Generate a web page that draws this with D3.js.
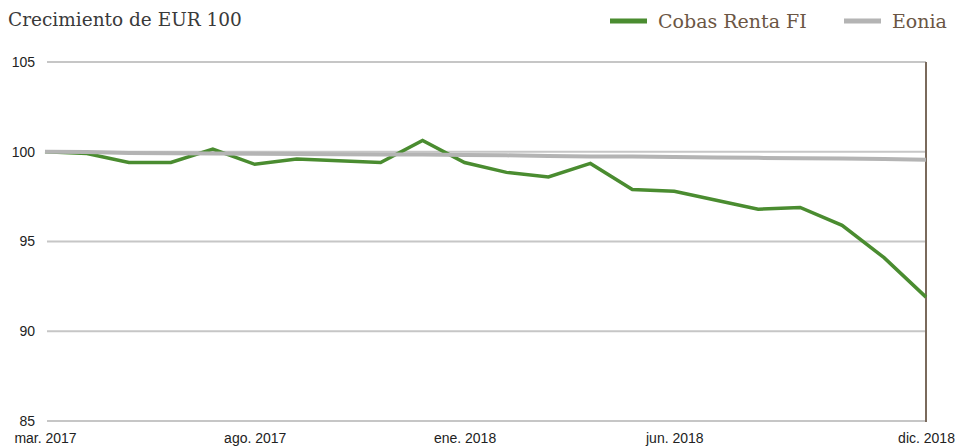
<!DOCTYPE html>
<html>
<head>
<meta charset="utf-8">
<script src="https://cdn.jsdelivr.net/npm/d3@7"></script>
<style>
  body { margin: 0; background: #fff; }
  svg { display: block; }
</style>
</head>
<body>
<div id="chart"></div>
<script>
// monthly values, mar. 2017 .. dic. 2018
var months = ["2017-03","2017-04","2017-05","2017-06","2017-07","2017-08","2017-09","2017-10","2017-11","2017-12",
  "2018-01","2018-02","2018-03","2018-04","2018-05","2018-06","2018-07","2018-08","2018-09","2018-10","2018-11","2018-12"];
var cobas = [100.0, 99.9, 99.4, 99.4, 100.15, 99.3, 99.6, 99.5, 99.4, 100.63,
  99.4, 98.85, 98.6, 99.35, 97.9, 97.8, 97.3, 96.8, 96.9, 95.9, 94.1, 91.9];
var eonia = [100.0, 99.98, 99.93, 99.91, 99.9, 99.89, 99.88, 99.86, 99.85, 99.84,
  99.82, 99.8, 99.76, 99.74, 99.73, 99.71, 99.68, 99.66, 99.64, 99.62, 99.6, 99.55];
var yTicks = [85, 90, 95, 100, 105];
var xTickMonths = ["2017-03","2017-08","2018-01","2018-06","2018-12"];
var xTickLabels = ["mar. 2017","ago. 2017","ene. 2018","jun. 2018","dic. 2018"];
var seriesNames = ["Cobas Renta FI", "Eonia"];

var W = 959, H = 446;
var margin = { top: 62, right: 33, bottom: 25, left: 45 };
var width = W - margin.left - margin.right,
    height = H - margin.top - margin.bottom;

var svg = d3.select("#chart").append("svg")
  .attr("width", W)
  .attr("height", H);

var g = svg.append("g")
  .attr("transform", "translate(" + margin.left + "," + margin.top + ")");

// evenly spaced months
var x = d3.scalePoint()
  .domain(months)
  .range([0, width]);

var y = d3.scaleLinear()
  .domain([85, 105])
  .range([height, 0]);

// gridlines
g.selectAll(".grid")
  .data(yTicks)
  .enter().append("line")
    .attr("x1", 2)
    .attr("x2", width)
    .attr("y1", function (d) { return y(d); })
    .attr("y2", function (d) { return y(d); })
    .attr("stroke", "#c6c6c6")
    .attr("stroke-width", 2);

// y labels
var yAxis = g.append("g")
  .call(d3.axisLeft(y).tickValues(yTicks).tickSize(0).tickPadding(10));
yAxis.select(".domain").remove();
yAxis.selectAll("text")
  .style("font-family", "'Liberation Sans', Arial, sans-serif")
  .style("font-size", "14px")
  .attr("fill", "#222");

// x labels
var xAxis = g.append("g")
  .attr("transform", "translate(0," + height + ")")
  .call(d3.axisBottom(x)
    .tickValues(xTickMonths)
    .tickFormat(function (d, i) { return xTickLabels[i]; })
    .tickSize(0).tickPadding(12));
xAxis.select(".domain").remove();
xAxis.selectAll("text")
  .style("font-family", "'Liberation Sans', Arial, sans-serif")
  .style("font-size", "14px")
  .attr("fill", "#222");

// right border
g.append("line")
  .attr("x1", width).attr("x2", width)
  .attr("y1", 0).attr("y2", height + 1)
  .attr("stroke", "#7a6a5c")
  .attr("stroke-width", 2);

var line = d3.line()
  .x(function (d, i) { return x(months[i]); })
  .y(function (d) { return y(d); });

g.append("path")
  .datum(cobas)
  .attr("fill", "none")
  .attr("stroke", "#4a8c30")
  .attr("stroke-width", 3.5)
  .attr("d", line);

g.append("path")
  .datum(eonia)
  .attr("fill", "none")
  .attr("stroke", "#b4b4b4")
  .attr("stroke-width", 4)
  .attr("d", line);

// title
svg.append("text")
  .attr("x", 8)
  .attr("y", 26)
  .style("font-family", "'DejaVu Serif', serif")
  .style("font-size", "18.5px")
  .attr("fill", "#3a3a3a")
  .text("Crecimiento de EUR 100");

// legend
var legend = [
  { name: seriesNames[0], color: "#4a8c30", x: 610 },
  { name: seriesNames[1], color: "#b4b4b4", x: 844 }
];
var lg = svg.selectAll(".legend")
  .data(legend)
  .enter().append("g")
    .attr("transform", function (d) { return "translate(" + d.x + ",21)"; });
lg.append("line")
  .attr("x1", 0).attr("x2", 37)
  .attr("stroke", function (d) { return d.color; })
  .attr("stroke-width", 5);
lg.append("text")
  .attr("x", 48)
  .attr("y", 7)
  .style("font-family", "'DejaVu Serif', serif")
  .style("font-size", "19px")
  .attr("fill", "#6b5644")
  .text(function (d) { return d.name; });
</script>
</body>
</html>
